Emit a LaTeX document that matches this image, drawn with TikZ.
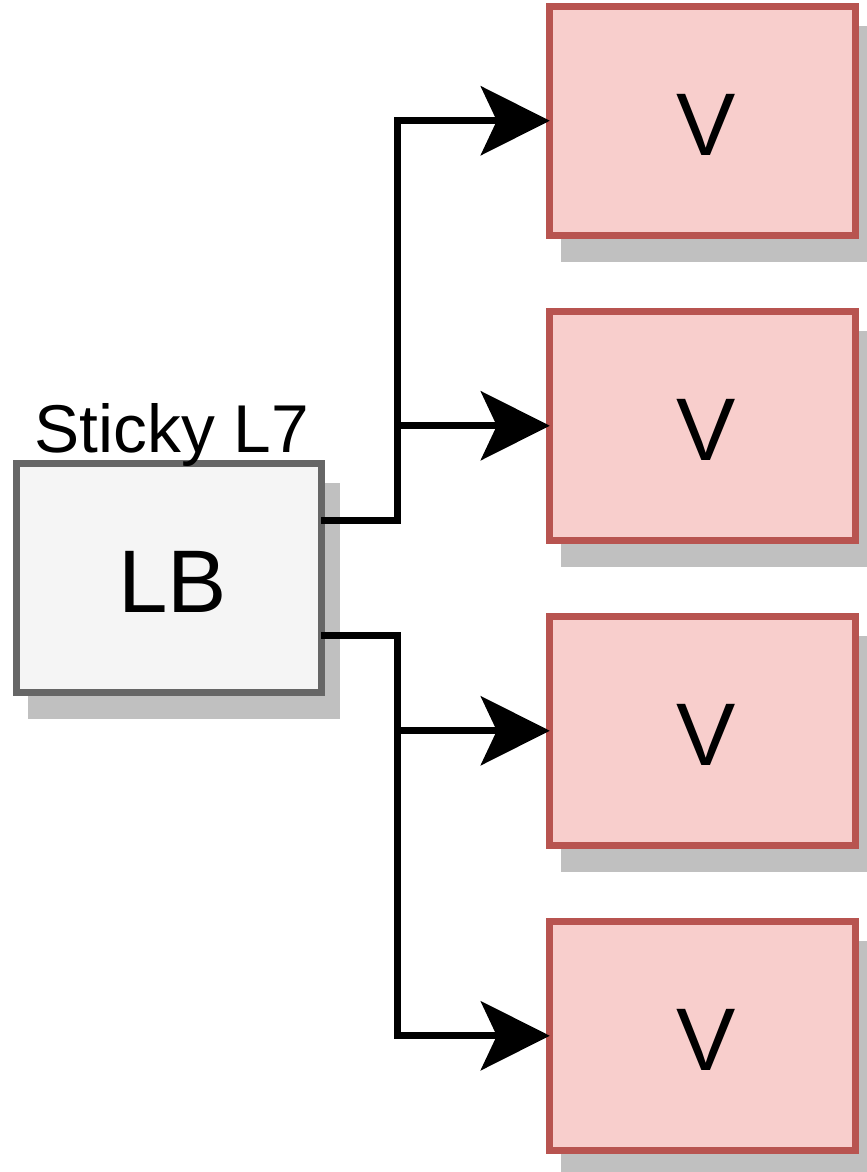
\documentclass[tikz,border=0pt]{standalone}
\usepackage{fontspec}
\setmainfont{Liberation Sans}
\usetikzlibrary{positioning,arrows.meta,calc,shadows}
\definecolor{lbfill}{HTML}{F5F5F5}
\definecolor{lbline}{HTML}{666666}
\definecolor{vmfill}{HTML}{F8CECC}
\definecolor{vmline}{HTML}{B85450}
\definecolor{shadowgray}{HTML}{C0C0C0}
\tikzset{
  boxshadow/.style={drop shadow={shadow xshift=0.3cm,shadow yshift=-0.46cm,
      fill=shadowgray,draw=shadowgray,line width=0.14cm,opacity=1}},
  lbbox/.style={rectangle,draw=lbline,fill=lbfill,line width=0.14cm,
      minimum width=6.11cm,minimum height=4.58cm,inner sep=0pt,outer sep=0pt,
      text height=1.39cm,text depth=0pt,
      execute at begin node={\hspace*{0.16cm}},
      boxshadow,font=\fontsize{50.6}{60}\selectfont},
  vmbox/.style={lbbox,draw=vmline,fill=vmfill},
  link/.style={draw,line width=0.134cm,-{Stealth[length=1.38cm,width=1.38cm,inset=0.32cm]}},
}

\begin{document}
\begin{tikzpicture}[x=0.02cm,y=-0.02cm]
\useasboundingbox (0,0) rectangle (866,1172);

% balancer and its caption
\node[lbbox] (lb) at (168.75,578) {LB};
\node[anchor=base,inner sep=0pt,font=\fontsize{38.5}{46}\selectfont] (sticky) at (172,452) {Sticky L7};

% backend machines
\foreach \i/\y in {1/120.75,2/425.75,3/730.75,4/1035.75}
  \node[vmbox] (v\i) at (702.5,\y) {V};

% two exits on the right side of the balancer
\coordinate (lbhi) at ($(lb.north east)!0.25!(lb.south east)$);
\coordinate (lblo) at ($(lb.north east)!0.75!(lb.south east)$);

\draw[link] (lbhi) -- ++(76,0) |- (v1.west);
\draw[link] (lbhi) -- ++(76,0) |- (v2.west);
\draw[link] (lblo) -- ++(76,0) |- (v3.west);
\draw[link] (lblo) -- ++(76,0) |- (v4.west);

\end{tikzpicture}
\end{document}
